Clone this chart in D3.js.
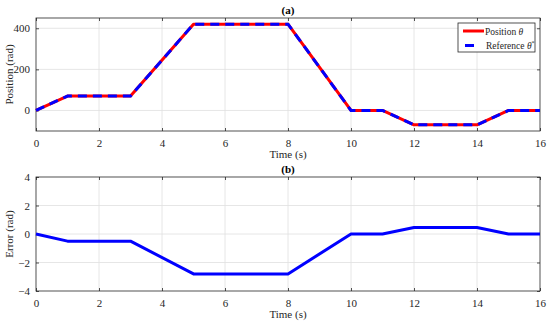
<!DOCTYPE html>
<html>
<head>
<meta charset="utf-8">
<script src="https://cdn.jsdelivr.net/npm/d3@7"></script>
<style>
  body { margin: 0; background: #fff; }
  svg, svg text { font-family: "Liberation Serif", "Times New Roman", serif !important; }
</style>
</head>
<body>
<script>
const W = 550, H = 324;

// time breakpoints (s)
const time = [0, 1, 3, 5, 8, 10, 11, 12, 14, 15, 16];
// position theta and reference theta* (rad), tracking each other
const position = [0, 70, 70, 420, 420, 0, 0, -70, -70, 0, 0];
const reference = [0, 70, 70, 420, 420, 0, 0, -70, -70, 0, 0];
// tracking error (rad)
const error = [0, -0.5, -0.5, -2.8, -2.8, 0, 0, 0.45, 0.45, 0, 0];

const xTicks = [0, 2, 4, 6, 8, 10, 12, 14, 16];
const posTicks = [0, 200, 400];
const errTicks = [-4, -2, 0, 2, 4];

const axisColor = "#262626";
const gridColor = "#e0e0e0";

const svg = d3.select("body").append("svg")
    .attr("width", W)
    .attr("height", H);

const left = 36, right = 540;

function panel(top, bottom, yDomain, yTicks, title, yLabel) {
  const x = d3.scaleLinear().domain([0, 16]).range([left, right]);
  const y = d3.scaleLinear().domain(yDomain).range([bottom, top]);
  const g = svg.append("g");

  // grid
  g.append("g").selectAll("line").data(xTicks.slice(1, -1)).join("line")
      .attr("x1", d => x(d)).attr("x2", d => x(d))
      .attr("y1", top).attr("y2", bottom)
      .attr("stroke", gridColor).attr("stroke-width", 0.8);
  g.append("g").selectAll("line").data(yTicks.filter(d => y(d) > top + 1 && y(d) < bottom - 1)).join("line")
      .attr("x1", left).attr("x2", right)
      .attr("y1", d => y(d)).attr("y2", d => y(d))
      .attr("stroke", gridColor).attr("stroke-width", 0.8);

  // axes (inward ticks, MATLAB box)
  const xb = g.append("g").attr("transform", `translate(0,${bottom})`)
      .call(d3.axisBottom(x).tickValues(xTicks).tickSize(-3).tickPadding(8).tickSizeOuter(0));
  const xt = g.append("g").attr("transform", `translate(0,${top})`)
      .call(d3.axisTop(x).tickValues(xTicks).tickSize(-3).tickFormat("").tickSizeOuter(0));
  const yl = g.append("g").attr("transform", `translate(${left},0)`)
      .call(d3.axisLeft(y).tickValues(yTicks).tickSize(-3).tickPadding(6).tickSizeOuter(0));
  const yr = g.append("g").attr("transform", `translate(${right},0)`)
      .call(d3.axisRight(y).tickValues(yTicks).tickSize(-3).tickFormat("").tickSizeOuter(0));
  [xb, xt, yl, yr].forEach(a => {
    a.attr("font-family", null).attr("font-size", 11);
    a.select(".domain").remove();
    a.selectAll("line").attr("stroke", axisColor).attr("stroke-width", 0.8);
    a.selectAll("text").attr("fill", axisColor);
  });
  g.append("rect")
      .attr("x", left).attr("y", top)
      .attr("width", right - left).attr("height", bottom - top)
      .attr("fill", "none").attr("stroke", axisColor).attr("stroke-width", 0.8);

  // titles
  g.append("text").attr("x", (left + right) / 2).attr("y", top - 4)
      .attr("text-anchor", "middle").attr("font-weight", "bold")
      .attr("font-size", 11).attr("fill", "#000").text(title);
  g.append("text").attr("x", (left + right) / 2).attr("y", bottom + 27)
      .attr("text-anchor", "middle").attr("font-size", 11)
      .attr("fill", axisColor).text("Time (s)");
  g.append("text")
      .attr("transform", `translate(13,${(top + bottom) / 2}) rotate(-90)`)
      .attr("text-anchor", "middle").attr("font-size", 11)
      .attr("fill", axisColor).text(yLabel);

  return {x, y, g};
}

// (a) position
const a = panel(18, 131, [-100, 450], posTicks, "(a)", "Position (rad)");
const lineA = d3.line().x((d, i) => a.x(time[i])).y(d => a.y(d));
a.g.append("path").datum(position)
    .attr("d", lineA).attr("fill", "none")
    .attr("stroke", "#ff0000").attr("stroke-width", 3).attr("stroke-linejoin", "round");
a.g.append("path").datum(reference)
    .attr("d", lineA).attr("fill", "none")
    .attr("stroke", "#0000ff").attr("stroke-width", 3)
    .attr("stroke-dasharray", "9,6");

// legend
const lg = a.g.append("g");
lg.append("rect").attr("x", 458).attr("y", 23).attr("width", 77).attr("height", 29)
    .attr("fill", "#fff").attr("stroke", axisColor).attr("stroke-width", 0.8);
lg.append("line").attr("x1", 463).attr("x2", 484).attr("y1", 31).attr("y2", 31)
    .attr("stroke", "#ff0000").attr("stroke-width", 3);
lg.append("line").attr("x1", 465).attr("x2", 474).attr("y1", 45.5).attr("y2", 45.5)
    .attr("stroke", "#0000ff").attr("stroke-width", 3);
const t1 = lg.append("text").attr("x", 485).attr("y", 34.5).attr("font-size", 9.5).attr("fill", axisColor);
t1.append("tspan").text("Position ");
t1.append("tspan").attr("font-style", "italic").text("θ");
const t2 = lg.append("text").attr("x", 486).attr("y", 49).attr("font-size", 9.5).attr("fill", axisColor);
t2.append("tspan").text("Reference ");
t2.append("tspan").attr("font-style", "italic").text("θ");
t2.append("tspan").attr("dy", -4).attr("font-size", 6).text("*");

// (b) error
const b = panel(177, 291, [-4, 4], errTicks, "(b)", "Error (rad)");
const lineB = d3.line().x((d, i) => b.x(time[i])).y(d => b.y(d));
b.g.append("path").datum(error)
    .attr("d", lineB).attr("fill", "none")
    .attr("stroke", "#0000ff").attr("stroke-width", 3).attr("stroke-linejoin", "round");
</script>
</body>
</html>
